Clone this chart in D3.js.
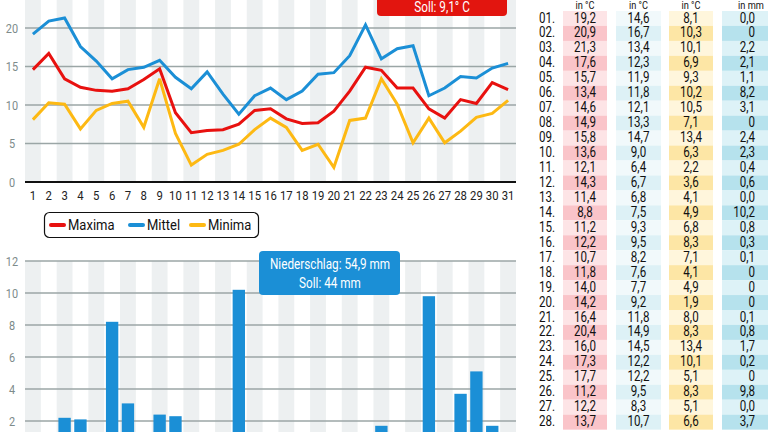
<!DOCTYPE html>
<html><head><meta charset="utf-8">
<script src="https://cdn.jsdelivr.net/npm/d3@7"></script>
<style>
html,body{margin:0;padding:0;background:#fff;overflow:hidden}
svg{display:block;font-family:"Roboto","Liberation Sans",sans-serif}
</style></head><body>
<svg id="c" width="768" height="432"></svg>
<script>
const days = d3.range(1, 32);
const maxima = [19.2,20.9,21.3,17.6,15.7,13.4,14.6,14.9,15.8,13.6,12.1,14.3,11.4,8.8,11.2,12.2,10.7,11.8,14.0,14.2,16.4,20.4,16.0,17.3,17.7,11.2,12.2,13.7,13.5,14.8,15.4];
const mittel = [14.6,16.7,13.4,12.3,11.9,11.8,12.1,13.3,14.7,9.0,6.4,6.7,6.8,7.5,9.3,9.5,8.2,7.6,7.7,9.2,11.8,14.9,14.5,12.2,12.2,9.5,8.3,10.7,10.2,12.9,12.0];
const minima = [8.1,10.3,10.1,6.9,9.3,10.2,10.5,7.1,13.4,6.3,2.2,3.6,4.1,4.9,6.8,8.3,7.1,4.1,4.9,1.9,8.0,8.3,13.4,10.1,5.1,8.3,5.1,6.6,8.4,8.9,10.6];
const niederschlag = [0.0,0,2.2,2.1,1.1,8.2,3.1,0,2.4,2.3,0.4,0.6,0.0,10.2,0.8,0.3,0.1,0,0,0,0.1,0.8,1.7,0.2,0,9.8,0.0,3.7,5.1,1.7,0];
const niederschlagText = ["0,0","0","2,2","2,1","1,1","8,2","3,1","0","2,4","2,3","0,4","0,6","0,0","10,2","0,8","0,3","0,1","0","0","0","0,1","0,8","1,7","0,2","0","9,8","0,0","3,7","5,1","1,7","0"];
const tempTicks = [0,5,10,15,20];
const rainTicks = [2,4,6,8,10,12];
const legendItems = ["Maxima","Mittel","Minima"];
const legendColors = ["#e8110f","#1b8fd6","#fdb913"];
const tableHeaders = ["in °C","in °C","in °C","in mm"];
const sollTemp = "Soll: 9,1° C";
const rainLabel = ["Niederschlag: 54,9 mm","Soll: 44 mm"];
const tableRowsShown = 28;

const svg = d3.select("#c");
const fmt = v => d3.format(".1f")(v).replace(".", ",");
const SX = 0.84; // horizontal condensing to mimic the narrow typeface
function ctext(g, x, y, str, size, anchor, fill) {
  return g.append("text").attr("transform", `translate(${x},${y}) scale(${SX},1)`)
    .attr("text-anchor", anchor || "start").attr("font-size", size)
    .attr("fill", fill || "#111").text(str);
}
const X0 = 25, X1 = 516;
const x = d3.scaleBand().domain(days).range([X0, X1]).padding(0);
const xBar = d3.scaleBand().domain(days).range([X0, X1]).paddingInner(0.22).paddingOuter(0.11);

// ---------- Temperature chart ----------
const yT = d3.scaleLinear().domain([0, 24]).range([182, 182 - 24 * 7.7]);
const gT = svg.append("g");
gT.selectAll("rect.band").data(days.filter(d => d % 2 === 1)).join("rect")
  .attr("x", d => x(d)).attr("width", x.bandwidth())
  .attr("y", 0).attr("height", yT(0)).attr("fill", "#edf0f1");
gT.selectAll("line.grid").data(tempTicks.filter(t => t > 0)).join("line")
  .attr("x1", X0).attr("x2", X1).attr("y1", d => yT(d)).attr("y2", d => yT(d))
  .attr("stroke", "#9ba6a6").attr("stroke-width", 1.5);
tempTicks.forEach(t => ctext(gT, 12, yT(t) + 4.5, t, 13, "middle", "#7d8b8b"));
gT.append("line").attr("x1", X0).attr("x2", X1).attr("y1", yT(0)).attr("y2", yT(0))
  .attr("stroke", "#111").attr("stroke-width", 2);
days.forEach(d => ctext(gT, x(d) + x.bandwidth() / 2, 200, d, 13.5, "middle", "#222"));

const line = d3.line().x((d, i) => x(days[i]) + x.bandwidth() / 2).y(d => yT(d));
const series = [[minima, "#fdb913"], [maxima, "#1b8fd6"], [mittel, "#e8110f"]];
series.forEach(([s, c]) => {
  gT.append("path").attr("d", line(s)).attr("fill", "none").attr("stroke", c)
    .attr("stroke-width", 3).attr("stroke-linejoin", "miter").attr("stroke-miterlimit", 3);
});

// Soll box (red)
gT.append("rect").attr("x", 377).attr("y", -20).attr("width", 130).attr("height", 36)
  .attr("rx", 4).attr("fill", "#e2150f");
ctext(gT, 442, 12, sollTemp, 14, "middle", "#fff");

// Legend
const lg = svg.append("g");
lg.append("rect").attr("x", 44.5).attr("y", 212.5).attr("width", 214).attr("height", 25)
  .attr("rx", 5).attr("fill", "#fff").attr("stroke", "#111").attr("stroke-width", 1.2);
const lx = [50, 129, 190];
legendItems.forEach((t, i) => {
  lg.append("line").attr("x1", lx[i] + 1).attr("x2", lx[i] + 14).attr("y1", 225).attr("y2", 225)
    .attr("stroke", legendColors[i]).attr("stroke-width", 4).attr("stroke-linecap", "round");
  ctext(lg, lx[i] + 18, 230, t, 15.5, "start", "#111");
});

// ---------- Precipitation chart ----------
const yR = d3.scaleLinear().domain([0, 12]).range([453, 261]);
const gR = svg.append("g");
gR.selectAll("rect.band").data(days.filter(d => d % 2 === 1)).join("rect")
  .attr("x", d => x(d)).attr("width", x.bandwidth())
  .attr("y", yR(12)).attr("height", yR(0) - yR(12)).attr("fill", "#edf0f1");
gR.selectAll("line.grid").data(rainTicks).join("line")
  .attr("x1", X0).attr("x2", X1).attr("y1", d => yR(d)).attr("y2", d => yR(d))
  .attr("stroke", "#9ba6a6").attr("stroke-width", 1.5);
rainTicks.forEach(t => ctext(gR, 12, yR(t) + 4.5, t, 13, "middle", "#7d8b8b"));
gR.selectAll("rect.bar").data(niederschlag).join("rect")
  .attr("x", (d, i) => xBar(days[i])).attr("width", xBar.bandwidth())
  .attr("y", d => yR(d)).attr("height", d => yR(0) - yR(d)).attr("fill", "#1b8fd6");

// Niederschlag box
gR.append("rect").attr("x", 259).attr("y", 251).attr("width", 141).attr("height", 44)
  .attr("rx", 4).attr("fill", "#1b8fd6");
rainLabel.forEach((t, i) => ctext(gR, 330, 269 + i * 19, t, 14, "middle", "#fff"));

// ---------- Table ----------
const gTab = svg.append("g");
const rowY = i => 11 + i * 14.95;
const cols = [
  {x: 563, w: 44, vals: maxima.map(fmt), c: ["#fde4e6", "#fac4c9"], anchor: "middle"},
  {x: 616, w: 45, vals: mittel.map(fmt), c: ["#f1f9fb", "#ddf1f6"], anchor: "middle"},
  {x: 669, w: 44, vals: minima.map(fmt), c: ["#fff6dc", "#fde6a5"], anchor: "middle"},
  {x: 722, w: 50, vals: niederschlagText, c: ["#ddf2f7", "#b6e2ed"], anchor: "end"}
];
tableHeaders.forEach((h, j) => {
  const cx = j < 3 ? cols[j].x + cols[j].w / 2 : 751;
  ctext(gTab, cx, 8.5, h, 11, "middle", "#111");
});
days.slice(0, tableRowsShown).forEach((d, i) => {
  const y0 = rowY(i);
  cols.forEach(col => {
    gTab.append("rect").attr("x", col.x).attr("y", y0).attr("width", col.w).attr("height", 15)
      .attr("fill", col.c[d % 2 === 0 ? 1 : 0]);
  });
});
days.slice(0, tableRowsShown).forEach((d, i) => {
  const y0 = rowY(i);
  ctext(gTab, 555, y0 + 11.5, d3.format("02d")(d) + ".", 13.8, "end", "#111");
  cols.forEach(col => {
    ctext(gTab, col.anchor === "end" ? 755 : col.x + col.w / 2, y0 + 11.5, col.vals[i], 13.8, col.anchor, "#111");
  });
});
</script></body></html>
